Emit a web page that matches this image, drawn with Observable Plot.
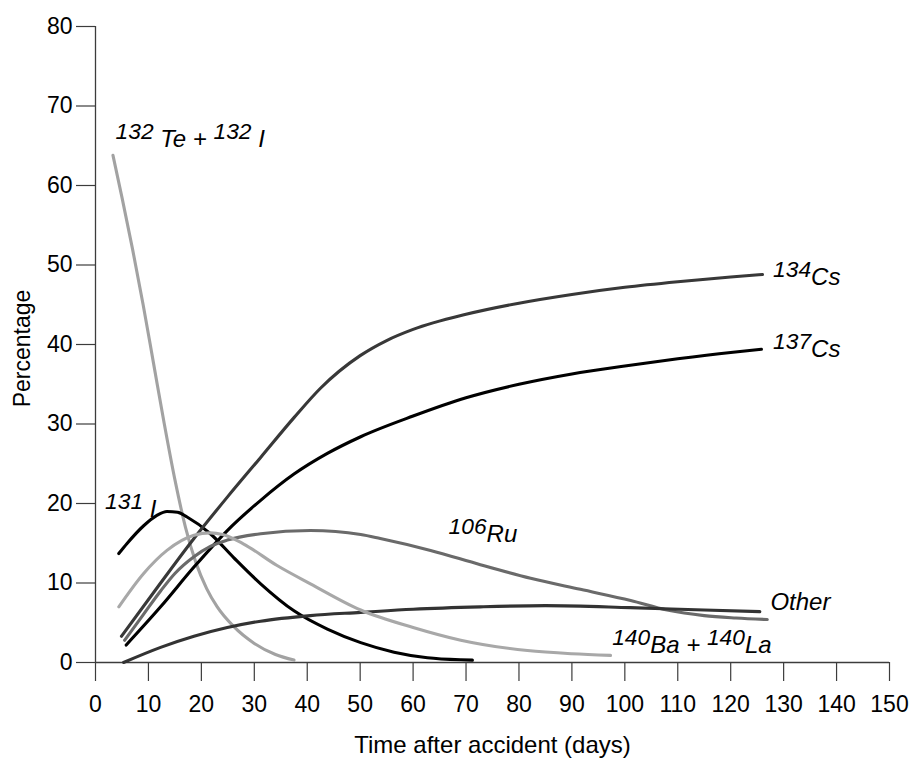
<!DOCTYPE html>
<html><head><meta charset="utf-8">
<script src="https://cdn.jsdelivr.net/npm/d3@7"></script>
<script src="https://cdn.jsdelivr.net/npm/@observablehq/plot@0.6"></script>
<style>
body{margin:0;background:#fff;}
#chart svg{display:block;}
</style></head><body><div id="chart"></div>
<script>
// ---- data (days after accident, percentage of activity) ----
const te132Days = [3.3, 5, 7, 9, 11, 13, 15, 17, 19, 21, 23, 26, 30, 34, 37.5];
const te132Pct  = [63.8, 58.5, 52, 45, 37.5, 30, 23, 17, 12.5, 9.3, 7.0, 4.6, 2.4, 1.0, 0.3];

const i131Days = [4.4, 6, 9.1, 11.6, 13.5, 15.5, 17.3, 21.7, 26.1, 31.2, 37.5, 43.8, 50.1, 56.4, 62.7, 69, 71.2];
const i131Pct  = [13.7, 15.0, 17.2, 18.5, 19.0, 18.9, 18.3, 16.2, 13.2, 9.9, 6.5, 4.2, 2.5, 1.3, 0.6, 0.34, 0.3];

const cs134Days = [4.9, 12.3, 18.6, 24.9, 31.2, 37.5, 42.5, 50, 55, 60, 70, 80, 90, 100, 110, 120, 126];
const cs134Pct  = [3.3, 10.0, 15.6, 20.8, 25.8, 30.8, 34.5, 38.6, 40.5, 41.9, 43.8, 45.2, 46.3, 47.2, 47.9, 48.5, 48.8];

const cs137Days = [5.8, 12.3, 18.6, 24.9, 31.2, 37.5, 43.8, 50.1, 60, 70, 80, 90, 100, 110, 120, 125.8];
const cs137Pct  = [2.2, 7.0, 12.0, 16.6, 20.4, 23.7, 26.3, 28.4, 31.0, 33.3, 35.0, 36.3, 37.3, 38.2, 39.0, 39.4];

const ru106Days = [5.5, 9, 12.3, 15, 18.6, 21.7, 24.9, 31.2, 40.6, 50.1, 53.8, 63.3, 72.7, 82.2, 91.6, 101.1, 108, 115, 121, 126.9];
const ru106Pct  = [2.8, 6.0, 9.0, 11.2, 13.3, 14.6, 15.4, 16.2, 16.6, 16.1, 15.6, 14.1, 12.3, 10.6, 9.2, 7.8, 6.6, 5.9, 5.6, 5.4];

const otherDays = [5.3, 12.3, 18.6, 24.9, 31.2, 40.6, 50.1, 60, 72.7, 85, 101, 115, 125.5];
const otherPct  = [0.0, 1.9, 3.3, 4.4, 5.2, 5.9, 6.3, 6.7, 7.0, 7.15, 6.9, 6.6, 6.4];

const ba140Days = [4.4, 9.1, 13.5, 18.6, 21.7, 24, 28, 34.3, 40.6, 50.1, 60, 69, 81.6, 90, 97.3];
const ba140Pct  = [7.0, 11.2, 14.1, 16.0, 16.3, 16.1, 14.9, 12.2, 9.9, 6.6, 4.4, 2.8, 1.5, 1.1, 0.9];

const seriesNames  = ["132Te+132I", "131I", "134Cs", "137Cs", "106Ru", "Other", "140Ba+140La"];
const seriesDays   = [te132Days, i131Days, cs134Days, cs137Days, ru106Days, otherDays, ba140Days];
const seriesPct    = [te132Pct, i131Pct, cs134Pct, cs137Pct, ru106Pct, otherPct, ba140Pct];
const seriesColors = ["#a2a2a2", "#000000", "#383838", "#000000", "#6a6a6a", "#333333", "#a8a8a8"];

// label text ("^" marks a raised mass number), anchor in data units
const labelText = ["^132 Te + ^132 I", "^131 I", "^134Cs", "^137Cs", "^106Ru", "Other", "^140Ba + ^140La"];
const labelDay  = [3.8, 1.8, 128, 128, 66.7, 127.5, 97.6];
const labelPct  = [64.8, 18.3, 47.5, 38.4, 15.1, 6.6, 1.17];

const xTicks = d3.range(0, 151, 10);
const yTicks = d3.range(0, 81, 10);
const xTitle = "Time after accident (days)";
const yTitle = "Percentage";

// ---- build ----
const labels = labelText.map((t, i) => ({text: t, day: labelDay[i], pct: labelPct[i]}));

const lineMarks = seriesNames.map((name, s) =>
  Plot.line(seriesDays[s].map((d, i) => ({series: name, day: d, pct: seriesPct[s][i]})), {
    x: "day", y: "pct", stroke: seriesColors[s], strokeWidth: 3.1, curve: "monotone-x"
  })
);

const axisColor = "#3c3c3c";
const plot = Plot.plot({
  width: 909, height: 758,
  marginLeft: 95, marginRight: 20, marginTop: 26, marginBottom: 96,
  x: {domain: [0, 150]},
  y: {domain: [0, 80]},
  style: {fontFamily: "'Liberation Sans', Arial, Helvetica, sans-serif", fontSize: "23px", color: "#000", background: "#fff"},
  marks: [
    Plot.axisX({ticks: xTicks, tickSize: 19, tickPadding: 14, label: null, stroke: axisColor, strokeWidth: 1.2, fill: "#000", fontSize: 23}),
    Plot.axisY({ticks: yTicks, tickSize: 19, tickPadding: 4, label: null, stroke: axisColor, strokeWidth: 1.2, fill: "#000", fontSize: 23}),
    Plot.ruleY([0], {stroke: axisColor, strokeWidth: 1.3}),
    Plot.ruleX([0], {stroke: axisColor, strokeWidth: 1.3}),
    ...lineMarks,
    Plot.text([xTitle], {frameAnchor: "bottom", textAnchor: "middle", dy: 90, lineAnchor: "bottom", fontSize: 24, fill: "#000"}),
    Plot.text([yTitle], {frameAnchor: "left", textAnchor: "middle", dx: -66, dy: 4, rotate: -90, lineAnchor: "bottom", fontSize: 23, fill: "#000"}),
    Plot.text(labels, {x: "day", y: "pct", text: "text", textAnchor: "start", lineAnchor: "bottom",
      fontSize: 24, fontStyle: "italic", fill: "#000"})
  ]
});

// raise the mass numbers (superscript style) inside each series label
d3.select(plot).selectAll("text").each(function () {
  const s = this.textContent;
  if (!s || s.indexOf("^") < 0) return;
  while (this.firstChild) this.removeChild(this.firstChild);
  const re = /\^(\d+)|([^\^]+)/g;
  let m, raised = false;
  while ((m = re.exec(s))) {
    const t = document.createElementNS("http://www.w3.org/2000/svg", "tspan");
    if (m[1]) {
      t.textContent = m[1];
      t.setAttribute("font-size", "0.95em");
      t.setAttribute("dy", raised ? "0" : "-8");
      raised = true;
    } else {
      t.textContent = m[2];
      t.setAttribute("dy", raised ? "8" : "0");
      raised = false;
    }
    this.appendChild(t);
  }
});

document.getElementById("chart").appendChild(plot);
</script></body></html>
